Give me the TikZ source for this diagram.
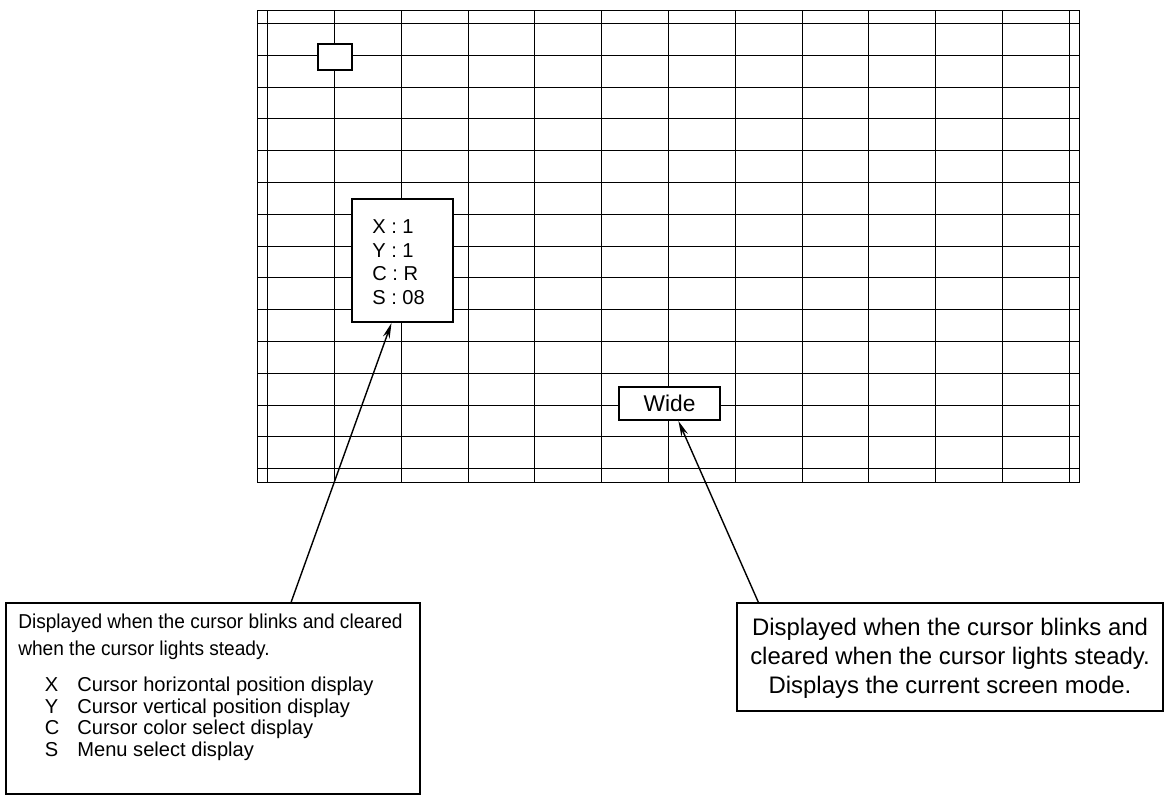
\documentclass[tikz,border=0pt]{standalone}
\usepackage{fontspec}
\setmainfont{Liberation Sans}
\newfontfamily\narrowfont[FakeStretch=0.95]{Liberation Sans}
\usetikzlibrary{arrows.meta}

\begin{document}
\begin{tikzpicture}[x=0.025cm, y=-0.025cm,
    gridline/.style={line width=0.7pt},
    frame/.style={draw, line width=1.4pt, fill=white, inner sep=0pt},
    pointer/.style={line width=1pt, -{Stealth[length=11pt, width=5pt]}}]
    \useasboundingbox (0,0) rectangle (1164,802);

    % Screen grid
    \draw[gridline] (257,10) rectangle (1079,482);
    \foreach \i in {0,...,12}
        \draw[gridline] ({267.7+66.8*\i},10) -- ({267.7+66.8*\i},482);
    \foreach \j in {0,...,14}
        \draw[gridline] (257,{23.5+31.8*\j}) -- (1079,{23.5+31.8*\j});

    % Cursor
    \node[frame, minimum width=24.2pt, minimum height=18.5pt] (cursor) at (335,57) {};

    % Status window
    \node[frame, minimum width=71.8pt, minimum height=87.5pt] (status) at (402.5,260.5) {};
    \node[anchor=base west, inner sep=0pt, align=left,
          font=\fontsize{14.3}{16.6}\selectfont] (statustext) at (372,304)
        {X : 1\\Y : 1\\C : R\\S : 08};

    % Mode window
    \node[frame, minimum width=71.8pt, minimum height=23.5pt,
          font=\fontsize{16.2}{19}\selectfont] (mode) at (669.5,403.5) {Wide};

    % Notes
    \node[frame, minimum width=294.5pt, minimum height=135.9pt] (cursornote) at (213,698.5) {};
    \node[anchor=base west, inner sep=0pt, align=left,
          font=\narrowfont\fontsize{14.3}{18.5}\selectfont] (cursornotetext) at (18,655)
        {Displayed when the cursor blinks and cleared\\
         when the cursor lights steady.};
    \node[anchor=base west, inner sep=0pt, align=left,
          font=\fontsize{14.3}{15.2}\selectfont] (cursornotelist) at (18,756)
        {\hspace*{19pt}\makebox[23pt][l]{X}Cursor horizontal position display\\
         \hspace*{19pt}\makebox[23pt][l]{Y}Cursor vertical position display\\
         \hspace*{19pt}\makebox[23pt][l]{C}Cursor color select display\\
         \hspace*{19pt}\makebox[23pt][l]{S}Menu select display};

    \node[frame, minimum width=303pt, minimum height=76.8pt] (modenote) at (950,657) {};
    \node[anchor=base, inner sep=0pt, align=center,
          font=\fontsize{17}{20.3}\selectfont] (modenotetext) at (950,693)
        {Displayed when the cursor blinks and\\
         cleared when the cursor lights steady.\\
         Displays the current screen mode.};

    % Pointers
    \draw[pointer] (cursornote.51.1) -- (status.-100.6);
    \draw[pointer] (modenote.164.4) -- (mode.-63.4);
\end{tikzpicture}
\end{document}
